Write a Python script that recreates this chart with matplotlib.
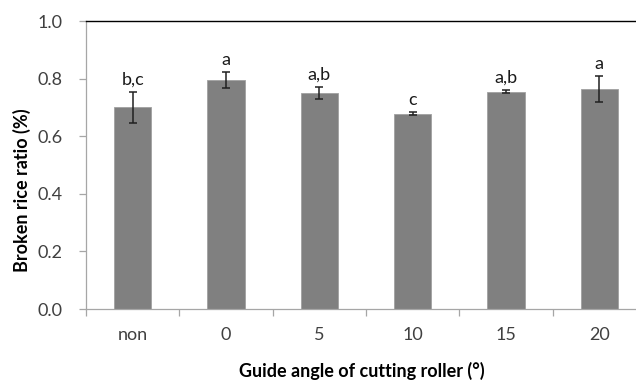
import matplotlib
matplotlib.use("Agg")
import matplotlib.pyplot as plt
import numpy as np

plt.rcParams["font.family"] = ["Lato", "DejaVu Sans"]

categories = ["non", "0", "5", "10", "15", "20"]
ratio = [0.700, 0.795, 0.750, 0.678, 0.755, 0.765]
ratio_err = [0.053, 0.029, 0.020, 0.006, 0.005, 0.045]
groups = ["b,c", "a", "a,b", "c", "a,b", "a"]

BAR_COLOR = "#808080"
AXIS_GRAY = "#a6a6a6"
TEXT_GRAY = "#404040"

fig = plt.figure(figsize=(6.36, 3.81), dpi=100)
# plot area runs a little past the right edge of the figure
ax = fig.add_axes([86 / 636, 72 / 381, 560 / 636, 288 / 381])

x = np.arange(len(categories))
ax.bar(x, ratio, width=0.4, color=BAR_COLOR, edgecolor="#a0a0a0", linewidth=0.6, zorder=2)
ax.errorbar(x, ratio, yerr=ratio_err, fmt="none", ecolor="#202020",
            elinewidth=1.1, capsize=3, capthick=1.1, zorder=3)

for xi, val, err, lab in zip(x, ratio, ratio_err, groups):
    ax.annotate(lab, (xi, val + err), xytext=(0, 3), textcoords="offset points",
                ha="center", va="bottom", fontsize=13, color="#1a1a1a")

ax.set_xlim(-0.5, len(categories) - 0.5)
ax.set_ylim(0, 1.0)
ax.set_yticks(np.arange(0, 1.01, 0.2))
ax.set_yticklabels([f"{v:.1f}" for v in np.arange(0, 1.01, 0.2)])

# tick marks on category boundaries, labels at bar centres
ax.set_xticks(np.arange(-0.5, len(categories), 1.0))
ax.set_xticklabels([])
ax.set_xticks(x, minor=True)
ax.set_xticklabels(categories, minor=True)
ax.tick_params(axis="x", which="major", direction="out", length=5, width=0.9, color=AXIS_GRAY)
ax.tick_params(axis="x", which="minor", length=0, pad=13, labelsize=13, labelcolor=TEXT_GRAY)
ax.tick_params(axis="y", direction="out", length=5, width=0.9, color=AXIS_GRAY,
               pad=12, labelsize=13, labelcolor=TEXT_GRAY)

for side in ("left", "bottom"):
    ax.spines[side].set_color(AXIS_GRAY)
    ax.spines[side].set_linewidth(0.9)
ax.spines["right"].set_visible(False)
ax.spines["top"].set_color("black")
ax.spines["top"].set_linewidth(1.0)

ax.set_ylabel("Broken rice ratio (%)", fontsize=13, fontweight="bold")
ax.set_xlabel("Guide angle of cutting roller (°)", fontsize=13, fontweight="bold")
ax.yaxis.set_label_coords(22 / 636, 0.5, transform=fig.transFigure)
ax.xaxis.set_label_coords(362 / 636, 10 / 381, transform=fig.transFigure)
ax.xaxis.label.set_va("center")
ax.yaxis.label.set_va("center")

fig.savefig("out.png", dpi=100)
